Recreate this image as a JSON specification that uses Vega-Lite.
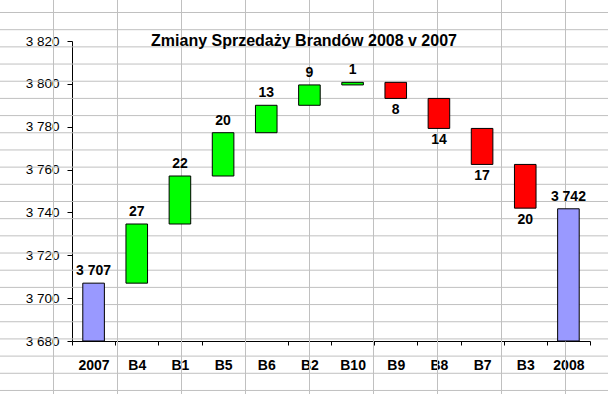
{
  "$schema": "https://vega.github.io/schema/vega-lite/v6.json",
  "width": 518,
  "height": 300,
  "autosize": {"type": "none"},
  "padding": {"left": 72, "top": 41, "right": 18, "bottom": 53},
  "background": "white",
  "config": {
    "font": "Liberation Sans",
    "view": {"stroke": null},
    "axis": {"labelFont": "Liberation Sans", "labelColor": "black", "domainColor": "black", "tickColor": "black", "grid": false, "zindex": 1}
  },
  "title": {
    "text": "Zmiany Sprzedaży Brandów 2008 v 2007",
    "font": "Liberation Sans",
    "fontSize": 16,
    "fontWeight": "bold",
    "color": "black",
    "anchor": "middle",
    "frame": "group",
    "baseline": "alphabetic",
    "offset": 0,
    "dx": -27,
    "dy": 67
  },
  "datasets": {
    "cols": [{"k": 0}, {"k": 1}, {"k": 2}, {"k": 3}, {"k": 4}, {"k": 5}, {"k": 6}, {"k": 7}, {"k": 8}],
    "rows": [{"j": 0}, {"j": 1}, {"j": 2}, {"j": 3}, {"j": 4}, {"j": 5}, {"j": 6}, {"j": 7}, {"j": 8}, {"j": 9}, {"j": 10}, {"j": 11}, {"j": 12}, {"j": 13}, {"j": 14}, {"j": 15}, {"j": 16}, {"j": 17}, {"j": 18}, {"j": 19}, {"j": 20}, {"j": 21}, {"j": 22}],
    "bars": [
      {"cat": "2007", "lo": 3680, "hi": 3707, "kind": "total", "label": "3 707"},
      {"cat": "B4", "lo": 3707, "hi": 3734.6, "kind": "up", "label": "27"},
      {"cat": "B1", "lo": 3734.6, "hi": 3757, "kind": "up", "label": "22"},
      {"cat": "B5", "lo": 3757, "hi": 3777.2, "kind": "up", "label": "20"},
      {"cat": "B6", "lo": 3777.2, "hi": 3790, "kind": "up", "label": "13"},
      {"cat": "B2", "lo": 3790, "hi": 3799.5, "kind": "up", "label": "9"},
      {"cat": "B10", "lo": 3799.5, "hi": 3800.7, "kind": "up", "label": "1"},
      {"cat": "B9", "lo": 3793.2, "hi": 3800.7, "kind": "down", "label": "8"},
      {"cat": "B8", "lo": 3779.2, "hi": 3793.2, "kind": "down", "label": "14"},
      {"cat": "B7", "lo": 3762.4, "hi": 3779.2, "kind": "down", "label": "17"},
      {"cat": "B3", "lo": 3742, "hi": 3762.4, "kind": "down", "label": "20"},
      {"cat": "2008", "lo": 3680, "hi": 3741.7, "kind": "total", "label": "3 742"}
    ]
  },
  "layer": [
    {
      "layer": [
        {
          "data": {"name": "cols"},
          "mark": {"type": "rule", "color": "#c0c0c0", "strokeWidth": 1},
          "encoding": {
            "x": {"field": "k", "type": "quantitative", "scale": {"domain": [0.2890625, 8.3828125], "nice": false, "zero": false}, "axis": null},
            "y": {"datum": -1, "type": "quantitative", "scale": {"domain": [1.6589, 19.1211], "nice": false, "zero": false, "reverse": true}, "axis": null},
            "y2": {"datum": 24}
          }
        },
        {
          "data": {"name": "rows"},
          "mark": {"type": "rule", "color": "#c0c0c0", "strokeWidth": 1},
          "encoding": {
            "y": {"field": "j", "type": "quantitative", "scale": {"domain": [1.6589, 19.1211], "nice": false, "zero": false, "reverse": true}, "axis": null},
            "x": {"datum": -2, "type": "quantitative", "scale": {"domain": [0.2890625, 8.3828125], "nice": false, "zero": false}, "axis": null},
            "x2": {"datum": 10}
          }
        }
      ]
    },
    {
      "data": {"name": "bars"},
      "encoding": {
        "x": {
          "field": "cat", "type": "nominal", "sort": null,
          "scale": {"paddingInner": 0, "paddingOuter": 0},
          "axis": {"title": null, "orient": "bottom", "tickBand": "extent", "labelAngle": 0, "labelFontWeight": "bold", "labelFontSize": 14, "tickSize": 4, "labelPadding": 13}
        }
      },
      "layer": [
        {
          "mark": {"type": "bar", "stroke": "black", "strokeWidth": 1, "width": {"band": 0.5}},
          "encoding": {
            "y": {
              "field": "lo", "type": "quantitative",
              "scale": {"domain": [3680, 3820], "nice": false, "zero": false},
              "axis": {"title": null, "values": [3680, 3700, 3720, 3740, 3760, 3780, 3800, 3820], "labelExpr": "replace(format(datum.value, ','), ',', ' ')", "labelFontSize": 13.5, "tickSize": 5, "labelPadding": 8}
            },
            "y2": {"field": "hi"},
            "color": {"field": "kind", "type": "nominal", "scale": {"domain": ["total", "up", "down"], "range": ["#9999ff", "#00ff00", "#ff0000"]}, "legend": null}
          }
        },
        {
          "transform": [{"filter": "datum.kind != 'down'"}],
          "mark": {"type": "text", "fontWeight": "bold", "fontSize": 14, "baseline": "alphabetic", "dy": -8, "color": "black"},
          "encoding": {
            "y": {"field": "hi", "type": "quantitative"},
            "text": {"field": "label"}
          }
        },
        {
          "transform": [{"filter": "datum.kind == 'down'"}],
          "mark": {"type": "text", "fontWeight": "bold", "fontSize": 14, "baseline": "alphabetic", "dy": 16, "color": "black"},
          "encoding": {
            "y": {"field": "lo", "type": "quantitative"},
            "text": {"field": "label"}
          }
        }
      ]
    }
  ],
  "resolve": {"scale": {"x": "independent", "y": "independent"}}
}
